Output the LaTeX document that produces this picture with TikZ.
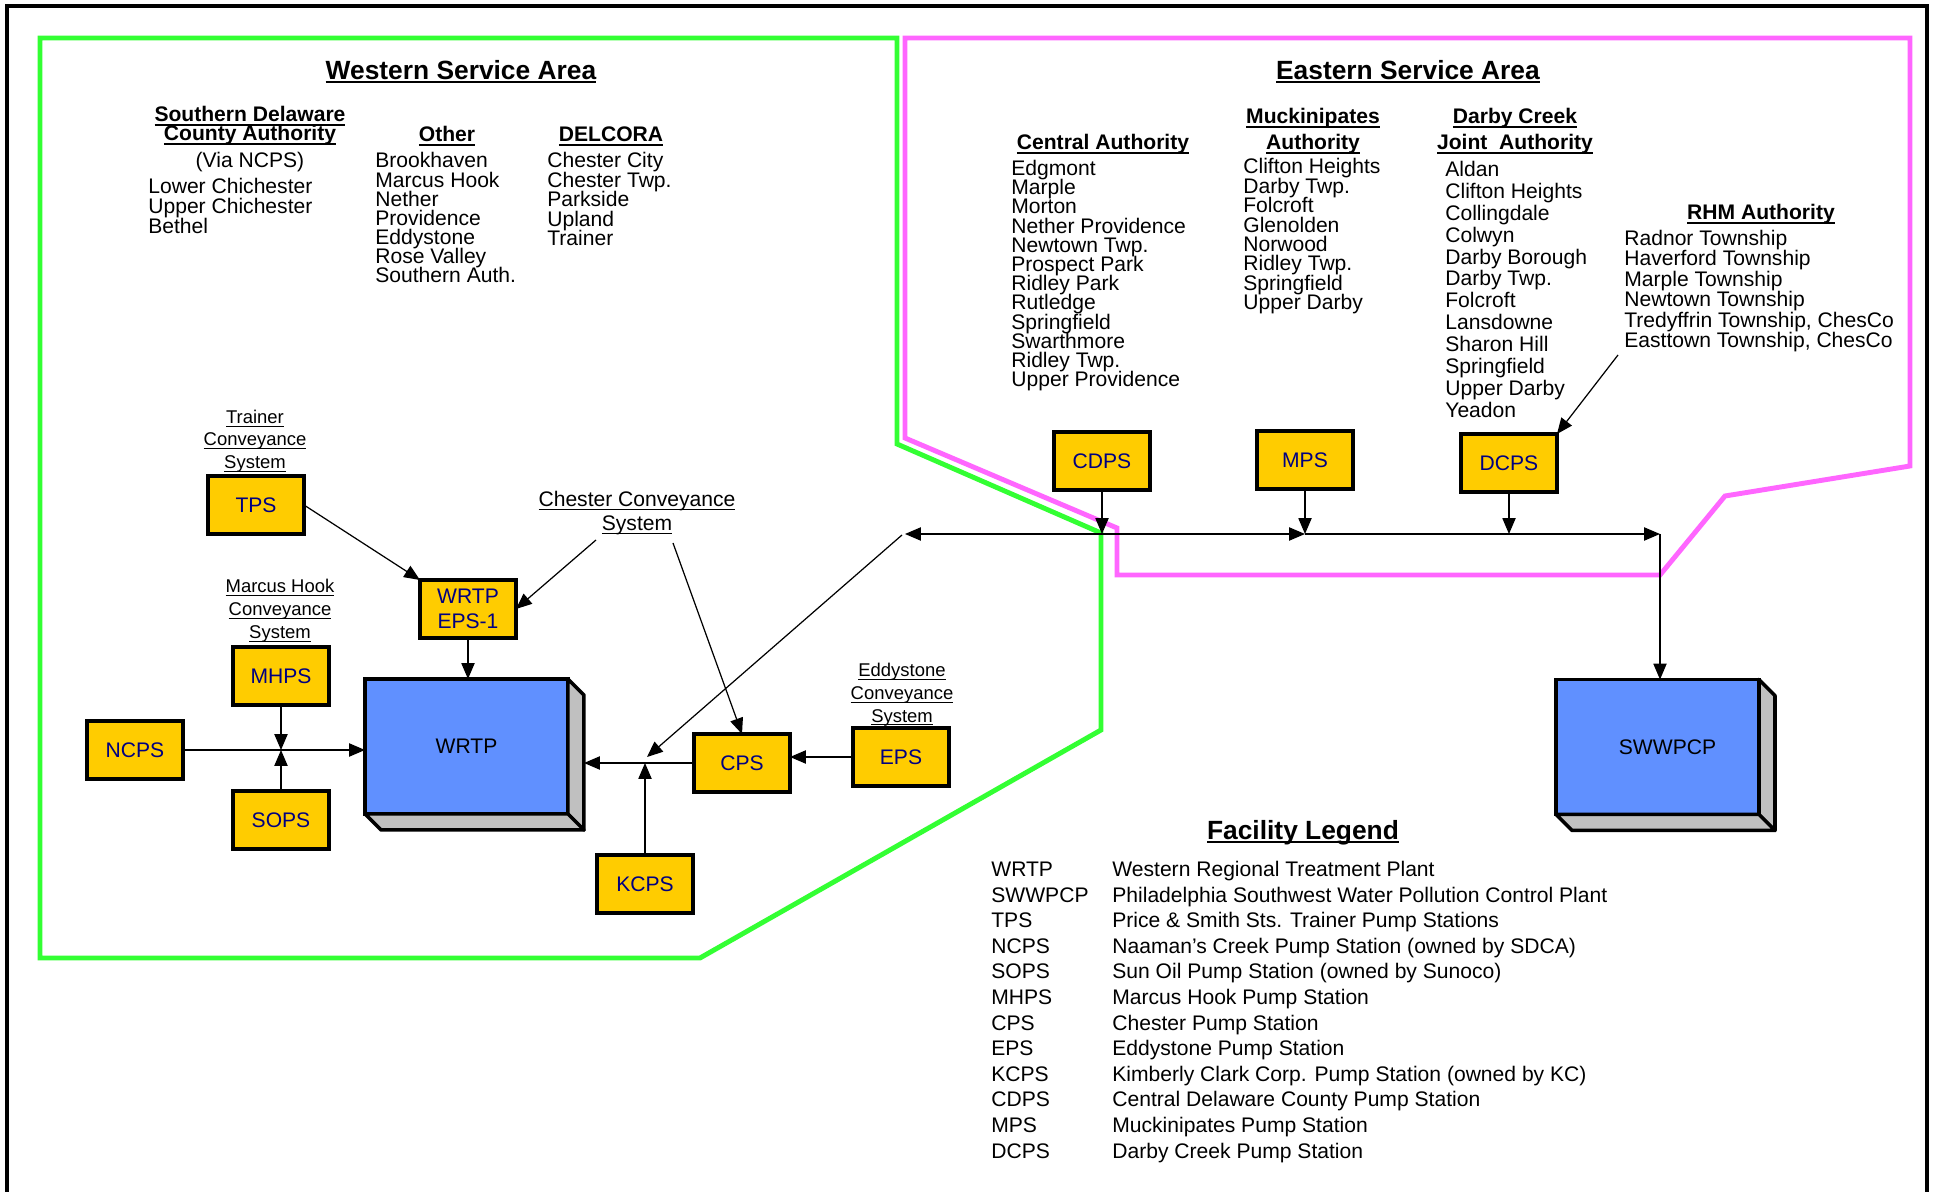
\documentclass[tikz,border=0pt]{standalone}
\usepackage{fontspec}
\setmainfont{Liberation Sans}
\usetikzlibrary{arrows.meta,calc}
\definecolor{boxyellow}{HTML}{FFCC00}
\definecolor{plantblue}{HTML}{6090FF}
\definecolor{sidegray}{HTML}{C0C0C0}
\definecolor{westgreen}{HTML}{33FF33}
\definecolor{eastpink}{HTML}{FF66FF}
\definecolor{navytxt}{HTML}{000080}
\newcommand{\myul}[3]{\sbox0{#3}\rlap{\rule[#1]{\wd0}{#2}}\usebox0}
\tikzset{
 lst/.style={font=\fontsize{12}{13}\selectfont, inner sep=0pt, anchor=base west},
 hdr/.style={font=\fontsize{12}{13}\selectfont\bfseries, inner sep=0pt, anchor=base},
 ttl/.style={font=\fontsize{15}{17}\selectfont\bfseries, inner sep=0pt, anchor=base},
 sml/.style={font=\fontsize{10.5}{12}\selectfont, inner sep=0pt, anchor=base},
 mid/.style={font=\fontsize{12}{13}\selectfont, inner sep=0pt, anchor=base},
 ps/.style={draw=black, line width=2pt, fill=boxyellow, minimum width=1.92cm, minimum height=1.16cm,
   font=\fontsize{12}{14.5}\selectfont, text=navytxt, align=center, inner sep=0pt, outer sep=0pt},
 plant/.style={draw=black, line width=2pt, fill=plantblue, minimum width=4.06cm, minimum height=2.7cm,
   font=\fontsize{12}{14}\selectfont, text=black, inner sep=0pt, outer sep=0pt},
 sideface/.style={fill=sidegray, draw=black, line width=2pt, line join=round},
 conn/.style={line width=0.7pt, -{Triangle[length=9pt,width=7.5pt]}},
 westline/.style={draw=westgreen, line width=2.8pt, line join=miter},
 eastline/.style={draw=eastpink, line width=2.8pt, line join=miter},
}
\begin{document}
\begin{tikzpicture}[x=0.02cm, y=-0.02cm]
\useasboundingbox (0,0) rectangle (1935,1192);
\fill[white] (0,0) rectangle (1935,1192);
% frame
\draw[line width=2.3pt] (7,1192) -- (7,6) -- (1927,6) -- (1927,1192);
% service area outlines
\draw[eastline] (905,38) -- (1910,38) -- (1910,466) -- (1725,496) -- (1660,575) -- (1117,575) -- (1117,528) -- (905,438) -- cycle;
\draw[westline] (40,38) -- (897,38) -- (897,444) -- (1101,533) -- (1101,730) -- (700,958) -- (40,958) -- cycle;

% titles
\node[ttl] (wtitle) at (461,79.5) {\myul{-2pt}{1.3pt}{Western Service Area}};
\node[ttl] (etitle) at (1408,79.5) {\myul{-2pt}{1.3pt}{Eastern Service Area}};

% western lists
\node[hdr] (sdca1) at (250,122) {\myul{-2.4pt}{1pt}{Southern Delaware}};
\node[hdr] (sdca2) at (250,141) {\myul{-2.4pt}{1pt}{County Authority}};
\node[mid] (via) at (250,167.5) {(Via NCPS)};
\foreach \t [count=\i from 0] in {Lower Chichester, Upper Chichester, Bethel}
  \node[lst] (sd\i) at (148,194+19.7*\i) {\t};
\node[hdr] (oth) at (447,141.5) {\myul{-2.4pt}{1pt}{Other}};
\foreach \t [count=\i from 0] in {Brookhaven, Marcus Hook, Nether, Providence, Eddystone, Rose Valley, Southern Auth.}
  \node[lst] (ot\i) at (375,168+19.15*\i) {\t};
\node[hdr] (del) at (611,141.5) {\myul{-2.4pt}{1pt}{DELCORA}};
\foreach \t [count=\i from 0] in {Chester City, Chester Twp., Parkside, Upland, Trainer}
  \node[lst] (dl\i) at (547,168+19.5*\i) {\t};

% eastern lists
\node[hdr] (cah) at (1103,149.5) {\myul{-2.4pt}{1pt}{Central Authority}};
\foreach \t [count=\i from 0] in {Edgmont, Marple, Morton, Nether Providence, Newtown Twp., Prospect Park, Ridley Park, Rutledge, Springfield, Swarthmore, Ridley Twp., Upper Providence}
  \node[lst] (ca\i) at (1011,175.5+19.2*\i) {\t};
\node[hdr] (mu1) at (1313,123.5) {\myul{-2.4pt}{1pt}{Muckinipates}};
\node[hdr] (mu2) at (1313,149.5) {\myul{-2.4pt}{1pt}{Authority}};
\foreach \t [count=\i from 0] in {Clifton Heights, Darby Twp., Folcroft, Glenolden, Norwood, Ridley Twp., Springfield, Upper Darby}
  \node[lst] (mu\i) at (1243,174+19.4*\i) {\t};
\node[hdr] (dc1) at (1515,123.5) {\myul{-2.4pt}{1pt}{Darby Creek}};
\node[hdr] (dc2) at (1515,149.5) {\myul{-2.4pt}{1pt}{Joint~~Authority}};
\foreach \t [count=\i from 0] in {Aldan, Clifton Heights, Collingdale, Colwyn, Darby Borough, Darby Twp., Folcroft, Lansdowne, Sharon Hill, Springfield, Upper Darby, Yeadon}
  \node[lst] (dc\i) at (1445,176.5+21.9*\i) {\t};
\node[hdr] (rhm) at (1761,219.5) {\myul{-2.4pt}{1pt}{RHM Authority}};
\foreach \t [count=\i from 0] in {Radnor Township, Haverford Township, Marple Township, Newtown Township, {Tredyffrin Township, ChesCo}, {Easttown Township, ChesCo}}
  \node[lst] (rh\i) at (1624,245.5+20.5*\i) {\t};

% conveyance labels
\foreach \t [count=\i from 0] in {Trainer, Conveyance, System}
  \node[sml] (tcs\i) at (255,423.5+22.5*\i) {\myul{-1.8pt}{0.5pt}{\t}};
\foreach \t [count=\i from 0] in {Marcus Hook, Conveyance, System}
  \node[sml] (mcs\i) at (280,592.5+23*\i) {\myul{-1.8pt}{0.5pt}{\t}};
\foreach \t [count=\i from 0] in {Eddystone, Conveyance, System}
  \node[sml] (ecs\i) at (902,676.5+22.8*\i) {\myul{-1.8pt}{0.5pt}{\t}};
\node[mid] (ccs0) at (637,506.5) {\myul{-2pt}{0.6pt}{Chester Conveyance}};
\node[mid] (ccs1) at (637,530.5) {\myul{-2pt}{0.6pt}{System}};

% plants
\node[plant] (wrtp) at (466.5,746.5) {WRTP};
\filldraw[sideface] (wrtp.north east) -- ($(wrtp.north east)+(16,16)$) -- ($(wrtp.south east)+(16,16)$) -- (wrtp.south east) -- cycle;
\filldraw[sideface] (wrtp.south west) -- ($(wrtp.south west)+(16,16)$) -- ($(wrtp.south east)+(16,16)$) -- (wrtp.south east) -- cycle;
\node[plant] (swwpcp) at (1657.5,747) {\hspace*{0.4cm}SWWPCP};
\filldraw[sideface] (swwpcp.north east) -- ($(swwpcp.north east)+(16,16)$) -- ($(swwpcp.south east)+(16,16)$) -- (swwpcp.south east) -- cycle;
\filldraw[sideface] (swwpcp.south west) -- ($(swwpcp.south west)+(16,16)$) -- ($(swwpcp.south east)+(16,16)$) -- (swwpcp.south east) -- cycle;

% pump stations
\node[ps] (tps) at (256,505) {TPS};
\node[ps] (eps1) at (468,609) {WRTP\\EPS-1};
\node[ps] (mhps) at (281,676) {MHPS};
\node[ps] (ncps) at (135,750) {NCPS};
\node[ps] (sops) at (281,820) {SOPS};
\node[ps] (cps) at (742,763) {CPS};
\node[ps] (eps) at (901,757) {EPS};
\node[ps] (kcps) at (645,884) {KCPS};
\node[ps] (cdps) at (1102,461) {CDPS};
\node[ps] (mps) at (1305,460) {MPS};
\node[ps] (dcps) at (1509,463) {DCPS};

% junction coordinates
\coordinate (chA) at (596,540);
\coordinate (chB) at (673,543);
\coordinate (jM) at (281,750);
\coordinate (wrtpR) at (584,762);
\coordinate (jK) at (645,763);
\coordinate (dgA) at (902,535);
\coordinate (dgB) at (647,757);
\coordinate (jL) at (905,534);
\coordinate (jC) at (1102,534);
\coordinate (jMP) at (1305,534);
\coordinate (jD) at (1509,534);
\coordinate (jS) at (1660,534);
\coordinate (rhmA) at (1618,355);

% connectors
\draw[conn] (tps.east) -- (eps1.north west);
\draw[conn] (chA) -- (eps1.east);
\draw[conn] (chB) -- (cps.north);
\draw[conn] (eps1.south) -- (eps1.south |- wrtp.north);
\draw[conn] (mhps.south) -- (jM);
\draw[conn] (sops.north) -- (jM);
\draw[conn] (ncps.east) -- (ncps.east -| wrtp.west);
\draw[conn] (cps.west) -- (cps.west -| wrtpR);
\draw[conn] (kcps.north) -- (jK);
\draw[conn] (eps.west) -- (eps.west -| cps.east);
\draw[conn] (dgA) -- (dgB);
\draw[conn] (cdps.south) -- (jC);
\draw[conn] (mps.south) -- (jMP);
\draw[conn] (dcps.south) -- (jD);
\draw[conn] (jC) -- (jL);
\draw[conn] (jC) -- (jMP);
\draw[conn] (jMP) -- (jS);
\draw[conn] (jS) -- (jS |- swwpcp.north);
\draw[conn] (rhmA) -- (dcps.north east);

% legend
\node[ttl] (legt) at (1303,839.5) {\myul{-2pt}{1.3pt}{Facility Legend}};
\foreach \a/\d [count=\i from 0] in {WRTP/Western Regional Treatment Plant, SWWPCP/Philadelphia Southwest Water Pollution Control Plant, TPS/Price \& Smith Sts. Trainer Pump Stations, NCPS/Naaman’s Creek Pump Station (owned by SDCA), SOPS/Sun Oil Pump Station (owned by Sunoco), MHPS/Marcus Hook Pump Station, CPS/Chester Pump Station, EPS/Eddystone Pump Station, KCPS/Kimberly Clark Corp. Pump Station (owned by KC), CDPS/Central Delaware County Pump Station, MPS/Muckinipates Pump Station, DCPS/Darby Creek Pump Station}
{
  \node[lst] (la\i) at (991,876.5+25.6*\i) {\a};
  \node[lst] (ld\i) at (1112,876.5+25.6*\i) {\d};
}
\end{tikzpicture}
\end{document}
